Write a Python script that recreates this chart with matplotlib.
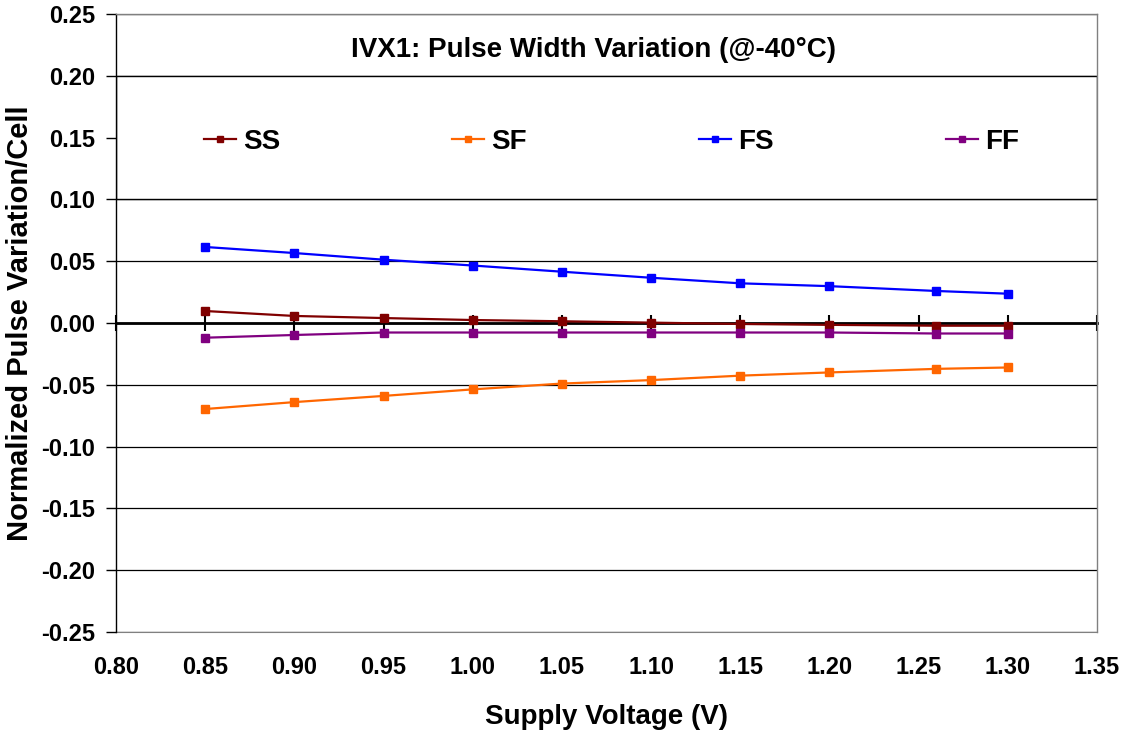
import matplotlib
matplotlib.use('Agg')
import matplotlib.pyplot as plt
from matplotlib.ticker import FormatStrFormatter

plt.rcParams['font.family'] = ['Liberation Sans', 'DejaVu Sans']
plt.rcParams['font.weight'] = 'bold'
plt.rcParams['axes.unicode_minus'] = False

# data
voltage = [0.85, 0.90, 0.95, 1.00, 1.05, 1.10, 1.15, 1.20, 1.26, 1.30]
ss = [0.0097, 0.0057, 0.0040, 0.0024, 0.0014, 0.0003, -0.0008, -0.0015, -0.0022, -0.0022]
sf = [-0.0696, -0.0640, -0.0590, -0.0537, -0.0490, -0.0462, -0.0426, -0.0400, -0.0371, -0.0360]
fs = [0.0615, 0.0566, 0.0512, 0.0465, 0.0415, 0.0366, 0.0321, 0.0298, 0.0259, 0.0237]
ff = [-0.0119, -0.0097, -0.0077, -0.0077, -0.0077, -0.0077, -0.0077, -0.0077, -0.0085, -0.0085]

series_names = ["SS", "SF", "FS", "FF"]
series_colors = ["#800000", "#FF6600", "#0000FF", "#800080"]

fig = plt.figure(figsize=(11.24, 7.32), dpi=100)
ax = fig.add_axes([0.1032, 0.1366, 0.8728, 0.8443])

# horizontal gridlines
ax.set_yticks([-0.25, -0.20, -0.15, -0.10, -0.05, 0.00, 0.05, 0.10, 0.15, 0.20, 0.25])
ax.yaxis.grid(True, color='black', linewidth=0.9)
ax.set_axisbelow(True)

handles = []
for vals, name, col in zip([ss, sf, fs, ff], series_names, series_colors):
    h, = ax.plot(voltage, vals, color=col, linewidth=1.6, marker='s',
                 markersize=6, label=name, zorder=3)
    handles.append(h)

ax.set_xlim(0.80, 1.35)
ax.set_ylim(-0.25, 0.25)

# x axis crosses at zero, labels kept at the bottom
xticks = [0.80, 0.85, 0.90, 0.95, 1.00, 1.05, 1.10, 1.15, 1.20, 1.25, 1.30, 1.35]
ax.set_xticks(xticks)
ax.spines['bottom'].set_position(('data', 0))
ax.spines['bottom'].set_linewidth(2)
ax.spines['bottom'].set_zorder(2)
ax.tick_params(axis='x', direction='inout', length=12, width=1.5,
               labelbottom=False, color='black')
ax.spines['left'].set_color('black')
ax.spines['left'].set_linewidth(1)
for s in ['top', 'right']:
    ax.spines[s].set_color('#808080')
    ax.spines[s].set_linewidth(1)

sec = ax.secondary_xaxis(0.0)
sec.set_xticks(xticks)
sec.xaxis.set_major_formatter(FormatStrFormatter('%.2f'))
sec.tick_params(length=0, pad=17, labelsize=17)
sec.spines['bottom'].set_color('#808080')
sec.set_xlabel("Supply Voltage (V)", fontsize=20, fontweight='bold', labelpad=18)

ax.yaxis.set_major_formatter(FormatStrFormatter('%.2f'))
ax.tick_params(axis='y', direction='out', length=7, width=1, labelsize=17, pad=8)
ax.set_ylabel("Normalized Pulse Variation/Cell", fontsize=21, fontweight='bold', labelpad=5)

ax.text(0.487, 0.221, "IVX1: Pulse Width Variation (@-40°C)", transform=ax.get_yaxis_transform(),
        ha='center', va='center', fontsize=20, fontweight='bold')

# white legend box covering the band between 0.10 and 0.20
box = plt.Rectangle((0, 0.10), 1, 0.10, transform=ax.get_yaxis_transform(),
                    facecolor='white', edgecolor='black', linewidth=1, zorder=1.5)
ax.add_patch(box)

leg = ax.legend(handles=handles, ncol=4, loc='center', bbox_to_anchor=(0.505, 0.7935),
                frameon=False, fontsize=20, handlelength=1.15, handletextpad=0.25,
                columnspacing=6.2, markerscale=0.8)

fig.savefig("out.png", dpi=100)
